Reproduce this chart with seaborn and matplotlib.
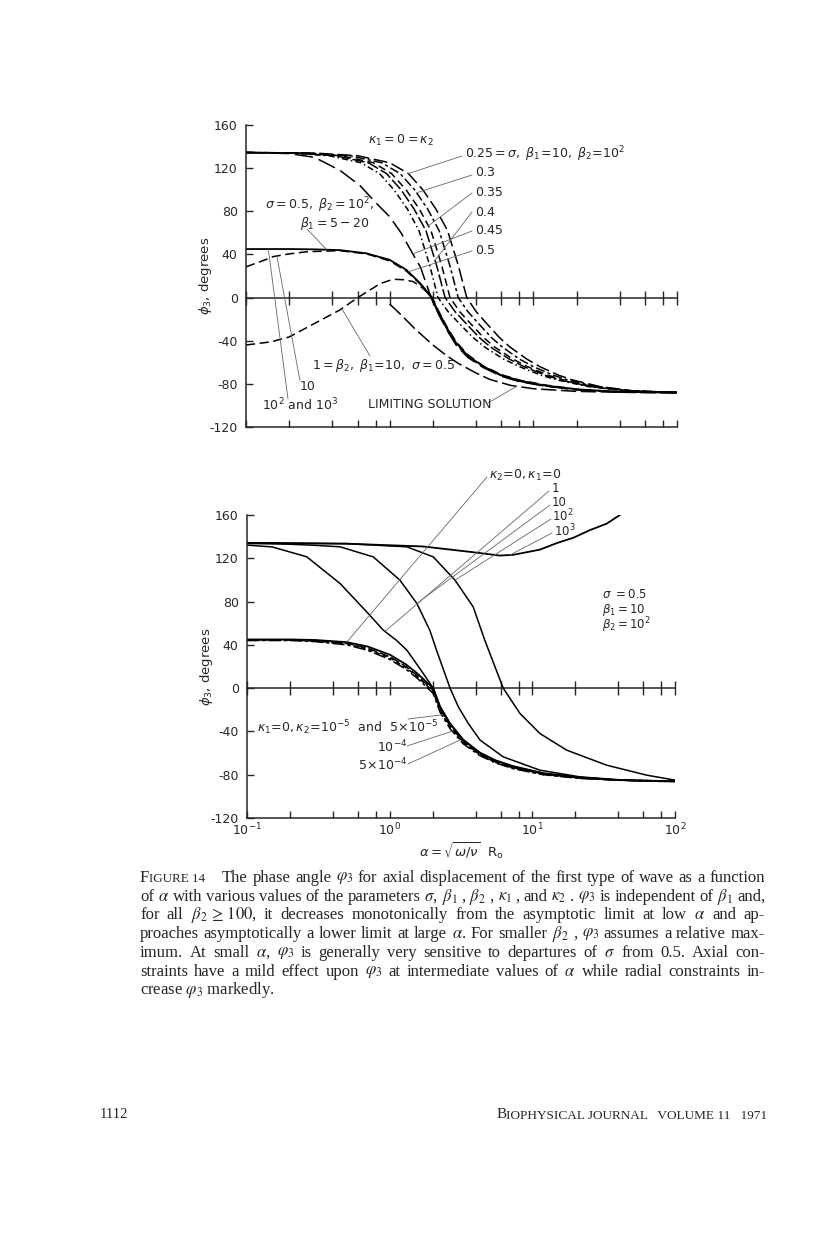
import numpy as np
import matplotlib
matplotlib.use("Agg")
from matplotlib import pyplot as plt
from matplotlib.ticker import NullLocator
import seaborn as sns

W, H = 816, 1247

# ---------------- top panel: kappa1 = 0 = kappa2 ----------------
# sigma family (beta1=10, beta2=1e2) read at common phi levels
top_levels = [134.5, 134, 131.5, 125, 115, 100, 82, 62, 30, 0, -13, -24, -37, -46,
              -57, -64, -72, -76.5, -82.5, -86.5, -88]
alpha_s025 = [0.1, 0.3, 0.6, 1.0, 1.35, 1.7, 2.1, 2.53, 3.0, 3.44, 4.0, 4.73, 5.8, 6.9,
              9.0, 11.1, 15, 18.9, 29, 50, 100]
alpha_s030 = [0.1, 0.27, 0.53, 0.88, 1.18, 1.49, 1.84, 2.21, 2.62, 3.0, 3.5, 4.15, 5.1, 6.1,
              8.0, 10, 13.8, 17.5, 27.5, 48, 100]
alpha_s035 = [0.1, 0.24, 0.46, 0.77, 1.03, 1.3, 1.61, 1.94, 2.3, 2.63, 3.07, 3.65, 4.5, 5.4,
              7.2, 9.1, 12.7, 16.3, 26, 46, 100]
alpha_s040 = [0.1, 0.22, 0.42, 0.71, 0.95, 1.2, 1.48, 1.79, 2.12, 2.43, 2.85, 3.4, 4.2, 5.05,
              6.8, 8.6, 12.1, 15.6, 25, 45, 100]
alpha_s040b = [0.1, 0.2, 0.38, 0.63, 0.85, 1.07, 1.33, 1.6, 1.9, 2.17, 2.55, 3.05, 3.8, 4.6,
               6.2, 8.0, 11.3, 14.8, 24, 44, 100]

alpha_s045 = [0.1, 0.2, 0.3, 0.45, 0.62, 0.8, 1.0, 1.2, 1.4, 1.64, 1.93, 2.2, 2.5, 2.9, 3.5,
              4.5, 6, 8, 12, 20, 40, 100]
phi_s045 = [134.5, 133.5, 130, 118, 104, 88, 75, 60, 44, 28, 1, -16, -30, -44, -55.5,
            -65, -73, -78, -82, -85.5, -87.5, -88]

alpha_s050 = [0.1, 0.2, 0.3, 0.45, 0.69, 1.0, 1.31, 1.63, 1.91, 2.2, 2.5, 2.9, 3.5, 4.5, 6,
              8, 12, 20, 40, 100]
phi_s050 = [45, 45, 44.7, 44, 41, 35, 25.6, 13.3, 2.4, -14, -28, -42, -54, -64, -72,
            -77, -81.5, -85, -87.5, -88]

alpha_b2_10 = [0.1, 0.13, 0.155, 0.2, 0.264, 0.45, 0.69, 1.0, 1.31, 1.63, 1.91, 2.2, 2.5,
               2.9, 3.5, 4.5, 6, 8, 12, 20, 40, 100]
phi_b2_10 = [28.5, 34, 38, 40.5, 42.5, 43.5, 40.5, 34, 24.5, 12.5, 1.5, -15, -29,
             -43, -55, -64.5, -72.5, -77.5, -82, -85.5, -87.5, -88]

alpha_b2_1 = [0.1, 0.15, 0.2, 0.3, 0.45, 0.6, 0.75, 0.86, 1.06, 1.25, 1.46, 1.65, 1.81, 1.97,
              2.2, 2.5, 2.9, 3.5, 4.5, 6, 8, 12, 20, 40, 100]
phi_b2_1 = [-44, -41, -36.5, -24, -11.5, 0, 8, 13, 17, 16.5, 14.8, 10, 5.5, 0.5,
            -13, -27, -41, -53, -63.5, -71.5, -76.5, -81, -85, -87.5, -88]

alpha_limit = [1.0, 1.2, 1.5, 2.0, 2.5, 3.0, 4.0, 5.0, 7.0, 10, 20, 50, 100]
phi_limit = [-6, -16, -29, -44, -54, -61, -70, -76, -81.5, -84.5, -87, -88, -88.5]

# ---------------- bottom panel: sigma=0.5, beta1=10, beta2=1e2 ----------------
alpha_k0 = [0.1, 0.2, 0.3, 0.5, 0.7, 1.0, 1.3, 1.55, 1.8, 2.02, 2.25, 2.65, 3.28, 4.3, 5.5,
            7.35, 12, 21.6, 40, 100]
phi_k0 = [45, 45, 44.5, 42.5, 38.5, 31, 22, 14, 6, 0, -17, -33, -48, -60, -67,
          -72.6, -79, -82.5, -85, -86]
phi_k2_5e5 = [44.5, 44.5, 44, 41.5, 37, 29, 20, 12, 4, -2, -19, -35, -49.5, -61, -68,
              -73.5, -79.5, -83, -85, -86]
phi_k2_1e4 = [44.5, 44.5, 43.5, 41, 36, 28, 19, 11, 3, -3.5, -20.5, -36, -50.5, -61.5, -68.5,
              -74, -80, -83, -85, -86]
phi_k2_5e4 = [44, 44, 43, 40, 35, 26.5, 17.5, 9.5, 1.5, -5, -22, -37.5, -51.5, -62.5, -69,
              -74.5, -80, -83.5, -85, -86]

alpha_k1_1 = [0.1, 0.15, 0.262, 0.449, 0.69, 0.902, 1.12, 1.32, 1.63, 2.02, 2.25, 2.65, 3.28,
              4.3, 5.5, 7.35, 12, 21.6, 40, 100]
phi_k1_1 = [132.2, 130.5, 121.4, 96.7, 70.5, 53.6, 44, 35.1, 18, 0, -16.5, -32.5, -47.5,
            -59.5, -66.5, -72, -78.5, -82.5, -85, -86]

alpha_k1_10 = [0.1, 0.2, 0.3, 0.449, 0.767, 1.18, 1.55, 1.91, 2.13, 2.65, 3.03, 3.56, 4.3,
               6.25, 11.3, 21.6, 50, 100]
phi_k1_10 = [133.7, 133, 132, 130.6, 121.3, 99.8, 78.3, 53.6, 35.1, 0, -17.3, -32.7, -48,
             -63.5, -75.8, -82, -85.5, -86.5]

alpha_k1_100 = [0.1, 0.5, 1.32, 2.02, 2.87, 3.85, 4.65, 6.25, 8.19, 11.3, 17.4, 33.2, 63.3, 100]
phi_k1_100 = [134.3, 133.5, 130.6, 121.3, 99.8, 75.1, 44, 0, -23.4, -41.9, -57.3, -71.2,
              -80.4, -85]

alpha_k1_1000 = [0.1, 0.5, 1.72, 3.85, 5.93, 7.35, 11.3, 14.8, 19.4, 25.3, 33.2, 41.1]
phi_k1_1000 = [134.3, 133.5, 130.9, 125.6, 122.5, 123.2, 128, 134, 139, 146, 152, 160]

x_ticks = [0.1, 0.2, 0.4, 0.6, 0.8, 1, 2, 4, 6, 8, 10, 20, 40, 60, 80, 100]
y_ticks = [-120, -80, -40, 0, 40, 80, 120, 160]

sns.set_style("ticks")
plt.rcParams["font.family"] = ["DejaVu Sans"]
plt.rcParams["mathtext.fontset"] = "dejavusans"
plt.rcParams["axes.unicode_minus"] = False

fig = plt.figure(figsize=(W / 100, H / 100), dpi=100)
renderer = fig.canvas.get_renderer()


def fx(px):
    return px / W


def fy(py):
    return 1 - py / H


def curve(ax, a, p, ls="-", lw=1.1):
    sns.lineplot(x=a, y=p, ax=ax, color="black", linewidth=lw, linestyle=ls,
                 estimator=None, sort=False)


def leader(ax, start, alpha, a, p):
    phi = np.interp(np.log10(alpha), np.log10(a), p)
    ax.annotate("", xy=(alpha, phi), xycoords="data",
                xytext=(start[0], H - start[1]), textcoords="figure pixels",
                arrowprops=dict(arrowstyle="-", color="0.4", lw=0.6, shrinkA=0, shrinkB=0),
                annotation_clip=False)


def label(x, y, s, size=9, **kw):
    return fig.text(fx(x), fy(y), s, fontsize=size, ha=kw.pop("ha", "left"), va="center", **kw)


def justify(x0, x1, y, s, size, **kw):
    # spread the words of one caption line over [x0, x1] like the printed page
    words = s.split(" ")
    texts = [label(0, y, w, size=size, **kw) for w in words]
    widths = [t.get_window_extent(renderer).width for t in texts]
    gap = (x1 - x0 - sum(widths)) / (len(words) - 1)
    x = x0
    for t, w in zip(texts, widths):
        t.set_x(fx(x))
        x += w + gap


def frame(ax, show_labels):
    ax.set_xscale("log")
    ax.set_xlim(0.1, 100)
    ax.set_ylim(-120, 160)
    sns.despine(ax=ax)
    for s in ["left", "bottom"]:
        ax.spines[s].set_linewidth(1.1)
    ax.set_xticks(x_ticks)
    ax.xaxis.set_minor_locator(NullLocator())
    if show_labels:
        ax.set_xticklabels([r"$10^{-1}$" if t == 0.1 else r"$10^{0}$" if t == 1 else
                            r"$10^{1}$" if t == 10 else r"$10^{2}$" if t == 100 else ""
                            for t in x_ticks])
    else:
        ax.set_xticklabels([])
    ax.set_yticks(y_ticks)
    ax.tick_params(axis="y", direction="in", length=5, width=1, labelsize=9, pad=6)
    ax.tick_params(axis="x", direction="in", length=5, width=1, labelsize=9, pad=3)
    ax.set_ylabel(r"$\phi_3$, degrees", fontsize=9.5, labelpad=-3)
    zero = ax.secondary_xaxis(120 / 280)
    zero.set_xticks(x_ticks)
    zero.xaxis.set_minor_locator(NullLocator())
    zero.tick_params(direction="inout", length=10, width=1,
                     labelbottom=False, labeltop=False)
    for sp in zero.spines.values():
        sp.set_linewidth(1.1)


# ---------------- top panel ----------------
ax1 = fig.add_axes([fx(246), fy(427), (677 - 246) / W, (427 - 125) / H])
frame(ax1, False)
curve(ax1, alpha_s025, top_levels, (0, (9, 3)))
curve(ax1, alpha_s030, top_levels, (0, (6, 2, 2, 2)))
curve(ax1, alpha_s035, top_levels, (0, (5, 3)))
curve(ax1, alpha_s040, top_levels, (0, (8, 2)))
curve(ax1, alpha_s040b, top_levels, (0, (4, 2, 1, 2)))
curve(ax1, alpha_s045, phi_s045, (0, (12, 4)))
curve(ax1, alpha_s050, phi_s050, "-", 1.3)
curve(ax1, alpha_b2_10, phi_b2_10, (0, (6, 3)))
curve(ax1, alpha_b2_1, phi_b2_1, (0, (6, 3)))
curve(ax1, alpha_limit, phi_limit, (0, (10, 3)))

label(368, 140, r"$\kappa_1 = 0 = \kappa_2$")
label(465, 154, r"$0.25 = \sigma,\ \beta_1\!=\!10,\ \beta_2\!=\!10^2$")
for lab, y in [("0.3", 173), ("0.35", 192), ("0.4", 212), ("0.45", 230), ("0.5", 250)]:
    label(475, y, lab)
leader(ax1, (462, 156), 1.35, alpha_s025, top_levels)
leader(ax1, (472, 175), 1.54, alpha_s030, top_levels)
leader(ax1, (472, 193), 1.86, alpha_s035, top_levels)
leader(ax1, (472, 212), 2.07, alpha_s040, top_levels)
leader(ax1, (472, 231), 1.45, alpha_s045, phi_s045)
leader(ax1, (472, 251), 1.35, alpha_s050, phi_s050)

label(265, 205, r"$\sigma = 0.5,\ \beta_2 = 10^2,$")
label(300, 223, r"$\beta_1 = 5 - 20$")
leader(ax1, (307, 229), 0.365, alpha_s050, phi_s050)
label(312, 365, r"$1 = \beta_2,\ \beta_1\!=\!10,\ \sigma = 0.5$")
leader(ax1, (370, 356), 0.464, alpha_b2_1, phi_b2_1)
label(300, 386, "10")
leader(ax1, (300, 381), 0.164, alpha_b2_10, phi_b2_10)
label(262, 405, r"$10^2$ and $10^3$")
leader(ax1, (288, 399), 0.143, alpha_s050, phi_s050)
label(368, 405, "LIMITING SOLUTION")
leader(ax1, (488, 403), 7.65, alpha_limit, phi_limit)

# ---------------- bottom panel ----------------
ax2 = fig.add_axes([fx(247), fy(818), (675 - 247) / W, (818 - 515) / H])
frame(ax2, True)
curve(ax2, alpha_k0, phi_k0, "-", 1.3)
curve(ax2, alpha_k0, phi_k2_5e5, (0, (6, 2)))
curve(ax2, alpha_k0, phi_k2_1e4, (0, (3, 2)))
curve(ax2, alpha_k0, phi_k2_5e4, (0, (8, 2, 2, 2)))
curve(ax2, alpha_k1_1, phi_k1_1)
curve(ax2, alpha_k1_10, phi_k1_10)
curve(ax2, alpha_k1_100, phi_k1_100)
curve(ax2, alpha_k1_1000, phi_k1_1000, "-", 1.3)
ax2.set_xlabel(r"$\alpha = \sqrt{\omega/\nu}\ \ \mathrm{R_o}$", fontsize=9.5, labelpad=1)

label(489, 475, r"$\kappa_2\!=\!0, \kappa_1\!=\!0$")
label(552, 489, "1", size=8.5)
label(552, 502, "10", size=8.5)
label(552, 516.5, r"$10^2$", size=8.5)
label(554, 531.5, r"$10^3$", size=8.5)
leader(ax2, (487, 477), 0.5, alpha_k0, phi_k0)
leader(ax2, (549, 491), 0.927, alpha_k1_1, phi_k1_1)
leader(ax2, (550, 505), 1.55, alpha_k1_10, phi_k1_10)
leader(ax2, (551, 519), 2.87, alpha_k1_100, phi_k1_100)
leader(ax2, (552, 533), 6.97, alpha_k1_1000, phi_k1_1000)

label(602, 594, r"$\sigma\ = 0.5$", size=8.5)
label(602, 609.5, r"$\beta_1 = 10$", size=8.5)
label(602, 625.5, r"$\beta_2 = 10^2$", size=8.5)

label(257, 728, r"$\kappa_1\!=\!0, \kappa_2\!=\!10^{-5}$  and  $5\!\times\!10^{-5}$")
label(377, 747, r"$10^{-4}$")
label(358, 765, r"$5\!\times\!10^{-4}$")
leader(ax2, (408, 719), 2.38, alpha_k0, phi_k2_5e5)
leader(ax2, (407, 746), 2.79, alpha_k0, phi_k2_1e4)
leader(ax2, (408, 764), 3.11, alpha_k0, phi_k2_5e4)

# ---------------- caption ----------------
serif = dict(family="Liberation Serif", math_fontfamily="stix")
cap = 12
label(140, 878, "F", size=cap, **serif)
label(149, 879, "IGURE 14", size=cap * 0.78, **serif)
justify(222, 765, 878,
        r"The phase angle $\varphi_3$ for axial displacement of the first type of wave as a function",
        cap, **serif)
lines = [
    r"of $\alpha$ with various values of the parameters $\sigma$, $\beta_1$ , $\beta_2$ , $\kappa_1$ , and $\kappa_2$ . $\varphi_3$ is independent of $\beta_1$ and,",
    r"for all $\beta_2\,\geq\,100$, it decreases monotonically from the asymptotic limit at low $\alpha$ and ap-",
    r"proaches asymptotically a lower limit at large $\alpha$. For smaller $\beta_2$ , $\varphi_3$ assumes a relative max-",
    r"imum. At small $\alpha$, $\varphi_3$ is generally very sensitive to departures of $\sigma$ from 0.5. Axial con-",
    r"straints have a mild effect upon $\varphi_3$ at intermediate values of $\alpha$ while radial constraints in-",
]
for i, s in enumerate(lines):
    justify(140, 765, 896.7 + i * 18.7, s, cap, **serif)
label(140, 896.7 + 5 * 18.7, r"crease $\varphi_3$ markedly.", size=cap, **serif)

label(100, 1115, "1112", size=10.5, **serif)
label(497, 1115, "B", size=11, **serif)
label(506, 1116, "IOPHYSICAL JOURNAL   VOLUME 11   1971", size=9.5, **serif)

fig.savefig("out.png", dpi=100)
